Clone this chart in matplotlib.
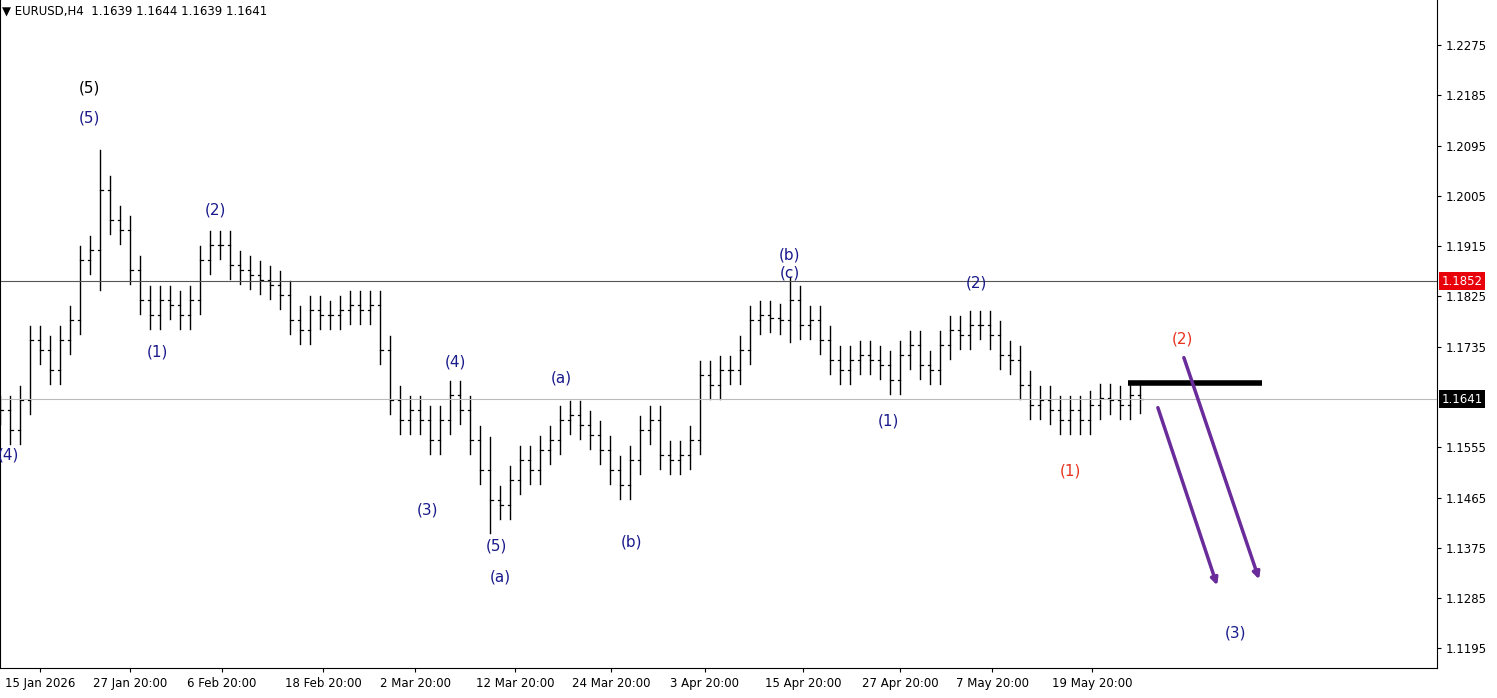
import matplotlib
matplotlib.use("Agg")
import matplotlib.pyplot as plt
import numpy as np

closes = [1.1622,1.1586,1.1640,1.1747,1.1729,1.1693,1.1747,1.1783,1.1890,1.1908,
1.2015,1.1962,1.1944,1.1872,1.1819,1.1792,1.1819,1.1810,1.1792,1.1819,
1.1890,1.1917,1.1917,1.1881,1.1872,1.1863,1.1854,1.1845,1.1828,1.1783,
1.1765,1.1801,1.1792,1.1792,1.1801,1.1810,1.1801,1.1810,1.1729,1.1640,
1.1604,1.1622,1.1604,1.1568,1.1604,1.1649,1.1622,1.1568,1.1514,1.1461,
1.1452,1.1496,1.1532,1.1514,1.1550,1.1568,1.1604,1.1613,1.1595,1.1577,
1.1550,1.1514,1.1487,1.1532,1.1586,1.1604,1.1541,1.1532,1.1541,1.1568,
1.1684,1.1666,1.1693,1.1693,1.1729,1.1783,1.1792,1.1787,1.1783,1.1819,
1.1774,1.1783,1.1747,1.1711,1.1693,1.1711,1.1720,1.1711,1.1702,1.1675,
1.1720,1.1738,1.1702,1.1693,1.1738,1.1765,1.1756,1.1774,1.1774,1.1756,
1.1720,1.1711,1.1666,1.1631,1.1640,1.1622,1.1604,1.1622,1.1604,1.1631,
1.1644,1.1640,1.1631,1.1649,1.1641]
wick = [0.0025]*len(closes)
wick[10] = 0.0072; wick[49] = 0.0060; wick[79] = 0.0040

yticks = [1.2275,1.2185,1.2095,1.2005,1.1915,1.1825,1.1735,1.1555,1.1465,1.1375,1.1285,1.1195]
xlabels = ["15 Jan 2026","27 Jan 20:00","6 Feb 20:00","18 Feb 20:00","2 Mar 20:00","12 Mar 20:00",
           "24 Mar 20:00","3 Apr 20:00","15 Apr 20:00","27 Apr 20:00","7 May 20:00","19 May 20:00"]
xlabel_pos = [4.0,13.0,22.2,32.3,41.5,51.5,61.1,70.5,80.3,90.0,99.2,109.2]

W, H = 1497, 698
fig = plt.figure(figsize=(W/100, H/100), dpi=100)
ax = fig.add_axes([0, 30/H, 1437/W, 668/H])
def py(p):  # pixel y -> price
    return 1.2275 - (p-45)*0.000179
ax.set_xlim(0, 143.7)
ax.set_ylim(py(668), py(0))

for i, c in enumerate(closes):
    o = closes[i-1] if i > 0 else c
    hi = max(o, c) + wick[i]; lo = min(o, c) - wick[i]
    ax.plot([i, i], [lo, hi], color='black', lw=1)
    ax.plot([i-0.25, i], [o, o], color='black', lw=0.9)
    ax.plot([i, i+0.25], [c, c], color='black', lw=0.9)

ax.axhline(1.1852, color='#555555', lw=0.8)
ax.axhline(1.1641, color='#bbbbbb', lw=0.8)
ax.plot([112.8, 126.2], [py(383), py(383)], color='black', lw=4, solid_capstyle='butt')
pur = '#6a2c9a'
ax.annotate('', xy=(121.8, py(588)), xytext=(115.7, py(405)),
            arrowprops=dict(arrowstyle='-|>', color=pur, lw=2.5))
ax.annotate('', xy=(126.0, py(582)), xytext=(118.3, py(355)),
            arrowprops=dict(arrowstyle='-|>', color=pur, lw=2.5))

blue = '#1a1a8c'
labels = [("(5)",89,88,'black'),("(5)",89,118,blue),("(2)",215,210,blue),("(1)",157,352,blue),
          ("(4)",8,455,blue),("(4)",455,362,blue),("(3)",427,510,blue),("(5)",496,546,blue),
          ("(a)",500,577,blue),("(a)",561,378,blue),("(b)",632,542,blue),("(b)",790,255,blue),
          ("(c)",790,273,blue),("(1)",888,421,blue),("(2)",976,283,blue),("(1)",1070,471,'#e8321e'),
          ("(2)",1182,339,'#e8321e'),("(3)",1235,633,blue)]
for t, x, y, col in labels:
    ax.text(x/10, py(y), t, color=col, fontsize=11, ha='center', va='center')

ax.yaxis.tick_right()
ax.set_yticks(yticks)
ax.set_yticklabels([f"{v:.4f}" for v in yticks], fontsize=8.5)
ax.set_xticks(xlabel_pos)
ax.set_xticklabels(xlabels, fontsize=8.5)
ax.tick_params(direction='out', length=3)
ax.spines['top'].set_visible(False)
ax.text(1.003, 1.1852, "1.1852", transform=ax.get_yaxis_transform(), fontsize=8.5, color='white',
        va='center', ha='left', bbox=dict(boxstyle='square,pad=0.2', fc='#e8000b', ec='none'))
ax.text(1.003, 1.1641, "1.1641", transform=ax.get_yaxis_transform(), fontsize=8.5, color='white',
        va='center', ha='left', bbox=dict(boxstyle='square,pad=0.2', fc='black', ec='none'))
fig.text(2/W, 1-11/H, "▼ EURUSD,H4  1.1639 1.1644 1.1639 1.1641", fontsize=8.5, va='center')
fig.savefig("out.png", dpi=100)
